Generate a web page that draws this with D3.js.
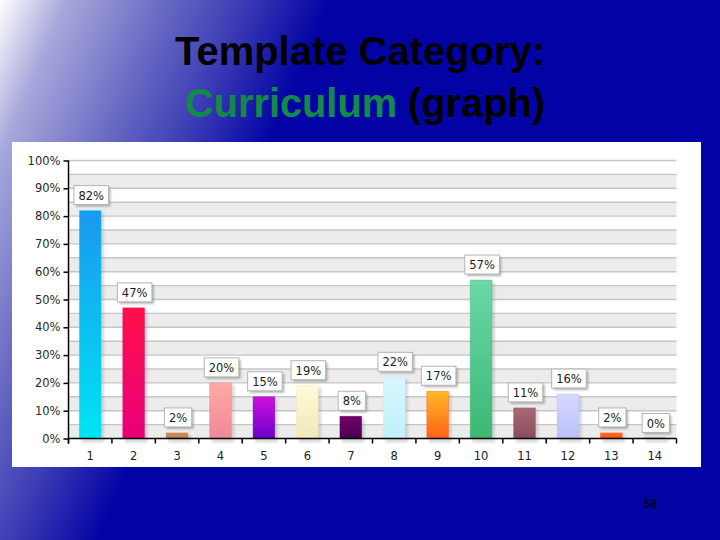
<!DOCTYPE html>
<html>
<head>
<meta charset="utf-8">
<script src="https://cdn.jsdelivr.net/npm/d3@7"></script>
<style>
  html, body { margin: 0; padding: 0; background: #0303a5; }
  svg { display: block; }
</style>
</head>
<body>
<svg id="chart" width="720" height="540"></svg>
<script>
// ---- data ----
const categories = ["1","2","3","4","5","6","7","8","9","10","11","12","13","14"];
const values = [82, 47, 2, 20, 15, 19, 8, 22, 17, 57, 11, 16, 2, 0];
const valueLabels = ["82%","47%","2%","20%","15%","19%","8%","22%","17%","57%","11%","16%","2%","0%"];
const topColors = ["#1a98f0","#ff1048","#d09060","#ffaaa2","#d010e0","#fffad8","#72006c","#d8f8ff","#ffb828","#6ad8a8","#a86878","#d8d8ff","#ff7020","#cccccc"];
const bottomColors = ["#00e4f2","#e8007a","#b88050","#f08898","#6a00c8","#f0e8b8","#4a0050","#c0f0f8","#ff6018","#3cb874","#8a4c5c","#b8c0f8","#ff5010","#bbbbbb"];
const yTicks = [0,10,20,30,40,50,60,70,80,90,100];
const yTickLabels = ["0%","10%","20%","30%","40%","50%","60%","70%","80%","90%","100%"];
const titleLine1 = "Template Category:";
const titleWord2a = "Curriculum";
const titleWord2b = " (graph)";
const pageNumber = "58";

// ---- drawing ----
const svg = d3.select("#chart");
const defs = svg.append("defs");

// background gradient
const bg = defs.append("linearGradient").attr("id","bg")
  .attr("gradientUnits","userSpaceOnUse")
  .attr("x1",0).attr("y1",0).attr("x2",279).attr("y2",120);
[[0,"#ffffff"],[0.2,"#a8a8dc"],[0.5,"#6a6ac4"],[0.75,"#3a3ab4"],[1,"#0303a5"]]
  .forEach(([o,c]) => bg.append("stop").attr("offset",o).attr("stop-color",c));
svg.append("rect").attr("width",720).attr("height",540).attr("fill","url(#bg)");

// filters
const blur = defs.append("filter").attr("id","blur").attr("x","-20%").attr("y","-20%").attr("width","140%").attr("height","140%");
blur.append("feGaussianBlur").attr("stdDeviation",1.2);

// bar gradients
categories.forEach((c,i) => {
  const g = defs.append("linearGradient").attr("id","bar"+i)
    .attr("x1",0).attr("y1",0).attr("x2",0).attr("y2",1);
  g.append("stop").attr("offset",0).attr("stop-color",topColors[i]);
  g.append("stop").attr("offset",1).attr("stop-color",bottomColors[i]);
});

// title
svg.append("text").attr("x",175).attr("y",65)
  .attr("font-family","'Liberation Sans', Arial, sans-serif")
  .attr("font-weight","bold").attr("font-size",40).attr("fill","#000")
  .attr("textLength",370).attr("lengthAdjust","spacingAndGlyphs")
  .text(titleLine1);
const t2 = svg.append("text").attr("x",185).attr("y",117)
  .attr("font-family","'Liberation Sans', Arial, sans-serif")
  .attr("font-weight","bold").attr("font-size",40)
  .attr("textLength",360).attr("lengthAdjust","spacingAndGlyphs");
t2.append("tspan").attr("fill","#128a48").text(titleWord2a);
t2.append("tspan").attr("fill","#000").text(titleWord2b);

// panel
svg.append("rect").attr("x",12).attr("y",142).attr("width",689).attr("height",325).attr("fill","#ffffff");

// scales
const x = d3.scaleBand().domain(categories).range([68.5, 676.5]).paddingInner(0.5).paddingOuter(0.25);
const y = d3.scaleLinear().domain([0,100]).range([438.5, 160.5]);
const step = x.step();
const x0 = 68.5, x1 = 676.5;

// grid bands and lines
const g = svg.append("g");
yTicks.slice(0,-1).forEach(v => {
  g.append("rect").attr("x",x0).attr("width",x1-x0)
    .attr("y",y(v+5)).attr("height",y(v)-y(v+5)).attr("fill","#ececec");
});
d3.range(5,101,5).forEach(v => {
  g.append("line").attr("x1",x0).attr("x2",x1).attr("y1",y(v)).attr("y2",y(v))
    .attr("stroke","#c6c6c6").attr("stroke-width",1.4);
});

// bars: shadows then bars
const bars = svg.append("g");
categories.forEach((c,i) => {
  const v = values[i];
  const h = Math.max(y(0)-y(v), 1.5);
  bars.append("rect").attr("x",x(c)+2).attr("y",y(0)-h+2).attr("width",x.bandwidth()+1).attr("height",h+2)
    .attr("fill","#999").attr("opacity",0.35).attr("filter","url(#blur)");
  bars.append("rect").attr("x",x(c)).attr("y",y(0)-h).attr("width",x.bandwidth()).attr("height",h)
    .attr("fill","url(#bar"+i+")").attr("stroke",bottomColors[i]).attr("stroke-opacity",0.5).attr("stroke-width",0.8);
});

// axes
const axisG = svg.append("g");
const yAxis = d3.axisLeft(y).tickValues(yTicks).tickFormat((d,i)=>yTickLabels[i]).tickSize(5).tickPadding(3);
const ya = axisG.append("g").attr("transform",`translate(${x0},0)`).call(yAxis);
ya.select(".domain").remove();
ya.selectAll(".tick line").attr("stroke","#000").attr("stroke-width",1.5);
ya.selectAll(".tick text").attr("font-family","'DejaVu Sans', Verdana, sans-serif").attr("font-size",11.5).attr("fill","#2a2a2a");
axisG.append("line").attr("x1",x0).attr("x2",x0).attr("y1",y(100)).attr("y2",y(0)+5).attr("stroke","#000").attr("stroke-width",1.5);

const xAxis = d3.axisBottom(x).tickSize(0).tickPadding(13);
const xa = axisG.append("g").attr("transform",`translate(0,${y(0)})`).call(xAxis);
xa.select(".domain").remove();
xa.selectAll(".tick text").attr("font-family","'DejaVu Sans', Verdana, sans-serif").attr("font-size",11.5).attr("fill","#222");
axisG.append("line").attr("x1",x0).attr("x2",x1).attr("y1",y(0)).attr("y2",y(0)).attr("stroke","#000").attr("stroke-width",1.5);
d3.range(0, categories.length+1).forEach(i => {
  axisG.append("line").attr("x1",x0+i*step).attr("x2",x0+i*step).attr("y1",y(0)).attr("y2",y(0)+5)
    .attr("stroke","#000").attr("stroke-width",1.5);
});

// value labels
const lab = svg.append("g");
categories.forEach((c,i) => {
  const cx = x(c) + x.bandwidth()/2 + 1;
  const bottom = y(values[i]) - 6;
  const grp = lab.append("g");
  const shadow = grp.append("rect");
  const box = grp.append("rect");
  const t = grp.append("text").attr("x",cx).attr("y",bottom-5)
    .attr("text-anchor","middle")
    .attr("font-family","'DejaVu Sans', Verdana, sans-serif").attr("font-size",11.5).attr("fill","#222")
    .text(valueLabels[i]);
  const w = t.node().getComputedTextLength() + 9;
  shadow.attr("x",cx-w/2+2).attr("y",bottom-19+2).attr("width",w).attr("height",19)
    .attr("fill","#777").attr("opacity",0.55).attr("filter","url(#blur)");
  box.attr("x",cx-w/2).attr("y",bottom-19).attr("width",w).attr("height",19)
    .attr("fill","#fff").attr("stroke","#b5b5b5").attr("stroke-width",1);
});

// page number
svg.append("text").attr("x",650.5).attr("y",508).attr("text-anchor","middle")
  .attr("font-family","'Liberation Sans', Arial, sans-serif").attr("font-size",12).attr("font-weight","bold")
  .attr("fill","#000028").text(pageNumber);
</script>
</body>
</html>
